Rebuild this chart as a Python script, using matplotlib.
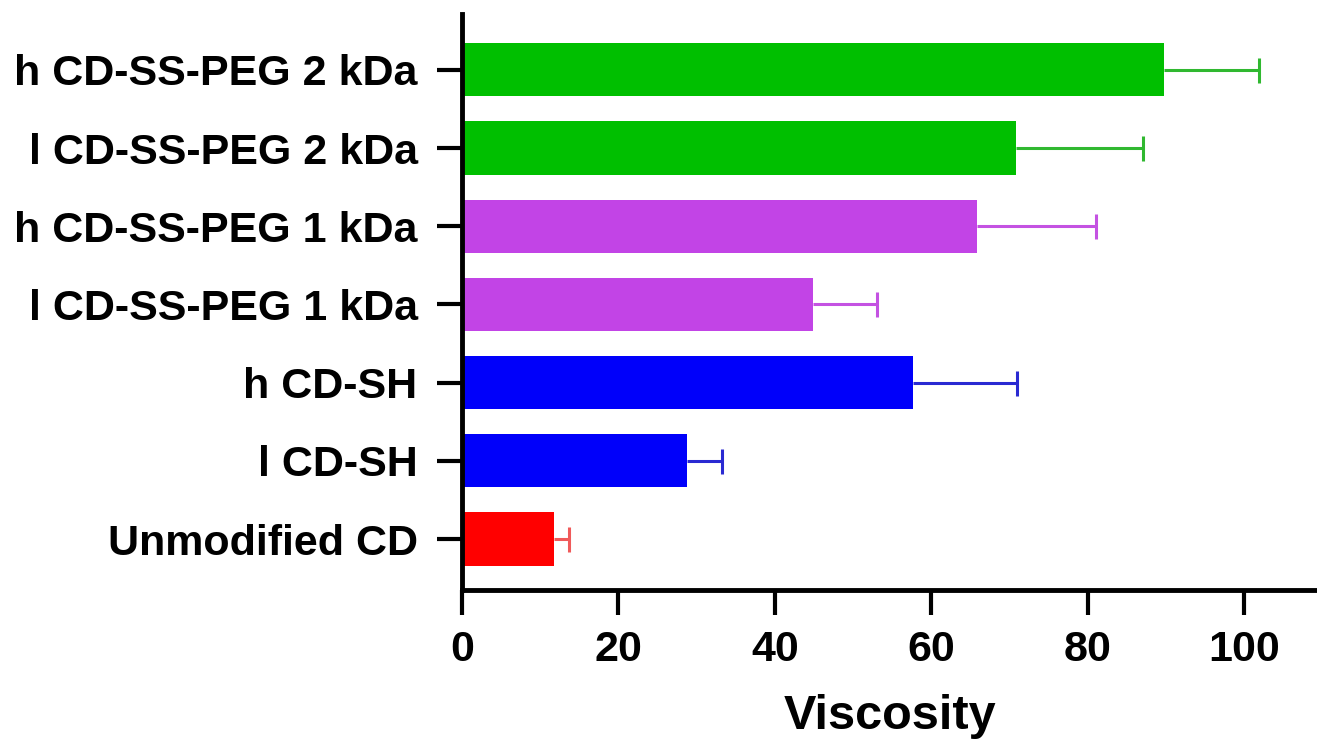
import matplotlib
matplotlib.use('Agg')
import matplotlib.pyplot as plt

# groups listed bottom to top
labels = ['Unmodified CD', 'l CD-SH', 'h CD-SH',
          'l CD-SS-PEG 1 kDa', 'h CD-SS-PEG 1 kDa',
          'l CD-SS-PEG 2 kDa', 'h CD-SS-PEG 2 kDa']
means = [11.7, 28.7, 57.7, 44.9, 65.8, 70.8, 89.7]
errs = [2.0, 4.6, 13.2, 8.1, 15.2, 16.2, 12.2]
colors = ['#ff0000', '#0000fa', '#0000fa', '#c244e6', '#c244e6', '#00bf00', '#00bf00']
errcolors = ['#f05a5a', '#2a2ad2', '#2a2ad2', '#c452e2', '#c452e2', '#30b830', '#30b830']
xticks = [0, 20, 40, 60, 80, 100]

plt.rcParams['font.family'] = ['Liberation Sans', 'DejaVu Sans']
plt.rcParams['font.weight'] = 'bold'

fig = plt.figure(figsize=(13.17, 7.39), dpi=100)
ax = fig.add_axes([462/1317., 1 - 590/739., 1 - 462/1317., 576/739.])

ypos = list(range(len(labels)))
ax.barh(ypos, means, height=0.68, color=colors, zorder=2)
for y, m, e, c in zip(ypos, means, errs, errcolors):
    eb = ax.errorbar(m, y, xerr=[[0], [e]], fmt='none', ecolor=c,
                     elinewidth=2.2, capsize=9, capthick=2.2, zorder=3)
    # only the outer cap, like the original
    eb[1][0].set_visible(False)

ax.set_xlim(0, 109.3)
ax.set_ylim(-0.652, 6.714)
ax.set_yticks(ypos)
ax.set_yticklabels(labels, fontsize=31, fontweight='bold')
ax.set_xticks(xticks)
ax.set_xticklabels([str(t) for t in xticks], fontsize=31, fontweight='bold')
ax.set_xlabel('Viscosity', fontsize=35, fontweight='bold', labelpad=17)

for s in ['top', 'right']:
    ax.spines[s].set_visible(False)
for s in ['left', 'bottom']:
    ax.spines[s].set_linewidth(3.5)
ax.tick_params(axis='both', length=18, width=3)
ax.tick_params(axis='y', pad=14)
ax.tick_params(axis='x', pad=11)

fig.savefig('out.png', dpi=100)
